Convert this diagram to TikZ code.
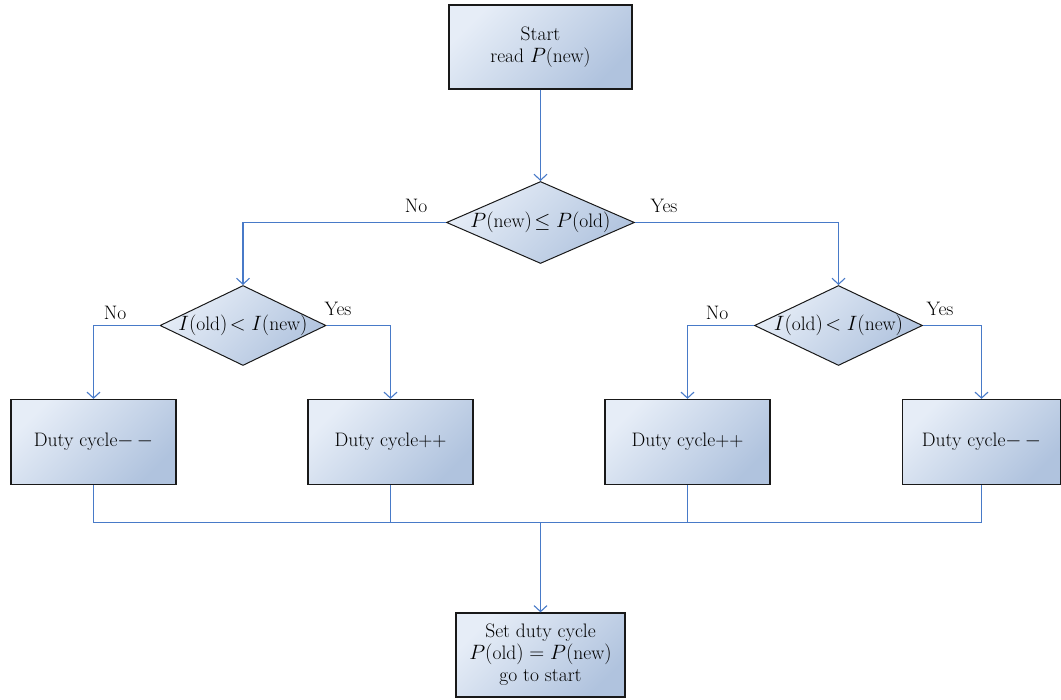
\documentclass[tikz,border=0pt]{standalone}
\usepackage{fontspec}
\usetikzlibrary{shapes.geometric,arrows.meta}
\definecolor{boxlight}{RGB}{230,237,247}
\definecolor{boxdark}{RGB}{176,195,222}
\definecolor{flowblue}{RGB}{72,122,200}
\tikzset{
  block/.style={draw=black!90,line width=1.3pt,top color=boxlight,bottom color=boxdark,
    shading angle=45,minimum width=165pt,minimum height=85pt,align=center,inner sep=2pt},
  decision/.style={diamond,draw=black!90,line width=1pt,top color=boxlight,bottom color=boxdark,
    shading angle=45,inner sep=0pt},
  flow/.style={draw=flowblue,line width=1.1pt,-{Straight Barb[length=6pt,width=13pt]}},
  link/.style={draw=flowblue,line width=1.1pt},
  lab/.style={inner sep=0pt}
}
\begin{document}
\begin{tikzpicture}[x=1pt,y=-1pt,font=\fontsize{19.5}{22}\selectfont]
    \useasboundingbox (0,0) rectangle (1061,700);
    \node[block,minimum width=183pt,minimum height=84pt] (start) at (540.5,47) {Start\\read $P$(new)};
    \node[decision,minimum width=188pt,minimum height=82pt,
      label={center:$P(\mathrm{new})\!\leq P(\mathrm{old})$}] (cmp) at (540.5,222.5) {};
    \node[decision,minimum width=166pt,minimum height=80pt,
      label={center:$I(\mathrm{old})\!< I(\mathrm{new})$}] (dl) at (243,325.5) {};
    \node[decision,minimum width=168pt,minimum height=80pt,
      label={center:$I(\mathrm{old})\!< I(\mathrm{new})$}] (dr) at (838.5,325.5) {};
    \node[block] (dec1) at (93.5,442) {Duty cycle$-\,-$};
    \node[block] (inc1) at (390.5,442) {Duty cycle++};
    \node[block] (inc2) at (687.5,442) {Duty cycle++};
    \node[block,minimum width=158pt] (dec2) at (981.5,442) {Duty cycle$-\,-$};
    \node[block,minimum width=169pt,minimum height=84pt] (setd) at (540.5,655)
      {Set duty cycle\\$P(\mathrm{old})=P(\mathrm{new})$\\go to start};
    \coordinate (merge) at (540.5,522.5);
    \node[lab] (no0) at (416,206) {No};
    \node[lab] (yes0) at (664,206) {Yes};
    \node[lab] (no1) at (115,313) {No};
    \node[lab] (yes1) at (338,309) {Yes};
    \node[lab] (no2) at (717,313) {No};
    \node[lab] (yes2) at (940,309) {Yes};
    \draw[flow] (start) -- (cmp);
    \draw[flow] (cmp.west) -| (dl.north);
    \draw[flow] (cmp.east) -| (dr.north);
    \draw[flow] (dl.west) -| (dec1.north);
    \draw[flow] (dl.east) -| (inc1.north);
    \draw[flow] (dr.west) -| (inc2.north);
    \draw[flow] (dr.east) -| (dec2.north);
    \foreach \b in {dec1,inc1,inc2,dec2}
      \draw[link] (\b.south) |- (merge);
    \draw[flow] (merge) -- (setd);
\end{tikzpicture}
\end{document}
